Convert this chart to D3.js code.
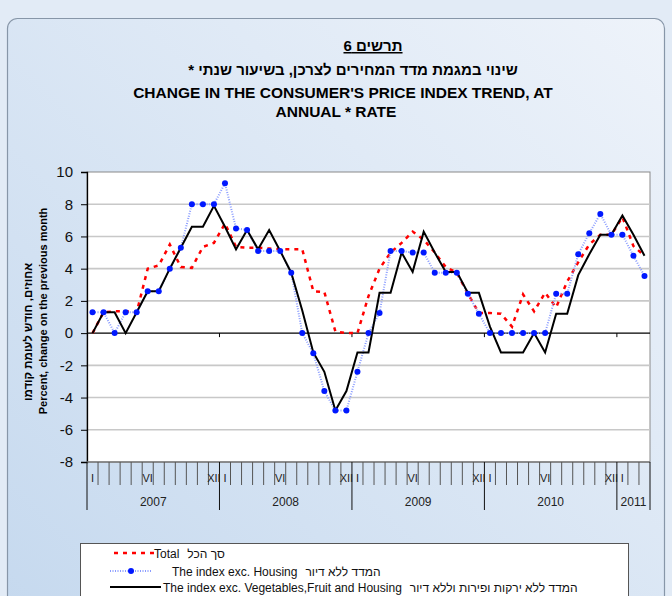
<!DOCTYPE html>
<html>
<head>
<meta charset="utf-8">
<script src="https://cdn.jsdelivr.net/npm/d3@7"></script>
<style>
  body { margin: 0; background: #dfe9f6; }
  svg { display: block; font-family: "Liberation Sans", Arial, "DejaVu Sans", sans-serif; }
</style>
</head>
<body>
<svg id="chart" width="672" height="596"></svg>
<script>
// categories: monthly, Jan 2007 - Mar 2011
const years = ["2007", "2008", "2009", "2010", "2011"];
const monthsPerYear = [12, 12, 12, 12, 3];
const monthNames = ["I", "", "", "", "", "VI", "", "", "", "", "", "XII"];

// Total
const total = [0, 1.3, 1.35, 1.35, 1.3, 4.0, 4.2, 5.5, 4.1, 4.05, 5.35, 5.6,
  6.8, 5.35, 5.3, 5.3, 5.25, 5.2, 5.2, 5.2, 2.6, 2.55, 0.1, 0, 0, 2.3,
  4.0, 5.0, 5.6, 6.3, 5.8, 5.0, 4.1, 3.75, 2.45, 1.25, 1.25, 1.2, 0.4, 2.4,
  1.35, 2.5, 1.6, 3.2, 4.4, 5.5, 6.1, 6.1, 7.2, 5.4, 4.8];

// The index exc. Housing
const exHousing = [1.3, 1.3, 0, 1.3, 1.3, 2.6, 2.6, 4.0, 5.3, 8.0, 8.0, 8.0,
  9.3, 6.5, 6.4, 5.1, 5.1, 5.1, 3.75, 0, -1.25, -3.6, -4.8, -4.8, -2.4, 0,
  1.25, 5.1, 5.1, 5.0, 5.0, 3.75, 3.75, 3.75, 2.45, 1.2, 0, 0, 0, 0,
  0, 0, 2.45, 2.45, 4.9, 6.2, 7.4, 6.1, 6.1, 4.8, 3.55];

// The index exc. Vegetables, Fruit and Housing
const exVegFruitHousing = [0, 1.3, 1.3, 0, 1.3, 2.6, 2.6, 4.0, 5.3, 6.6, 6.6, 7.9,
  6.6, 5.2, 6.4, 5.2, 6.4, 5.1, 3.75, 1.4, -1.2, -2.4, -4.8, -3.6, -1.2, -1.2,
  2.5, 2.5, 5.0, 3.8, 6.3, 5.0, 3.8, 3.8, 2.5, 2.5, 0.4, -1.2, -1.2, -1.2,
  0, -1.2, 1.2, 1.2, 3.6, 4.9, 6.1, 6.1, 7.3, 6.1, 4.8];

const yTicks = [-8, -6, -4, -2, 0, 2, 4, 6, 8, 10];

const categories = [];
years.forEach((yr, yi) => {
  for (let m = 0; m < monthsPerYear[yi]; m++) categories.push({ year: yr, month: monthNames[m] });
});

const svg = d3.select("#chart");
const W = 672, H = 596;
const plotL = 87, plotR = 650, plotT = 172, plotB = 462;

const defs = svg.append("defs");
const grad = defs.append("linearGradient").attr("id", "bg")
  .attr("x1", "100%").attr("y1", "0%").attr("x2", "0%").attr("y2", "100%");
grad.append("stop").attr("offset", "0%").attr("stop-color", "#eef3fa");
grad.append("stop").attr("offset", "100%").attr("stop-color", "#c4d8ee");

svg.append("rect").attr("width", W).attr("height", H).attr("fill", "#e2ebf6");
svg.append("rect")
  .attr("x", 7.5).attr("y", 18.5).attr("width", 657).attr("height", 640)
  .attr("rx", 10).attr("fill", "url(#bg)")
  .attr("stroke", "#8796a8").attr("stroke-width", 1.2);

// titles
svg.append("text").attr("x", 373).attr("y", 51)
  .attr("text-anchor", "middle").attr("direction", "rtl")
  .attr("font-size", 15).attr("font-weight", "bold")
  .style("text-decoration", "underline")
  .text("תרשים 6 ");
svg.append("text").attr("x", 353).attr("y", 75)
  .attr("text-anchor", "middle").attr("direction", "rtl")
  .attr("font-size", 15).attr("font-weight", "bold")
  .text("שינוי במגמת מדד המחירים לצרכן, בשיעור שנתי *");
svg.append("text").attr("x", 343).attr("y", 98)
  .attr("text-anchor", "middle")
  .attr("font-size", 15.5).attr("font-weight", "bold")
  .text("CHANGE IN THE CONSUMER'S PRICE INDEX TREND, AT");
svg.append("text").attr("x", 336).attr("y", 117)
  .attr("text-anchor", "middle")
  .attr("font-size", 15.5).attr("font-weight", "bold")
  .text("ANNUAL * RATE");

// scales
const x = d3.scaleBand().domain(d3.range(categories.length)).range([plotL, plotR]).padding(0);
const y = d3.scaleLinear().domain([-8, 10]).range([plotB, plotT]);
const cx = i => x(i) + x.bandwidth() / 2;

// plot area
svg.append("rect").attr("x", plotL).attr("y", plotT)
  .attr("width", plotR - plotL).attr("height", plotB - plotT)
  .attr("fill", "#fff").attr("stroke", "#8a8a8a").attr("stroke-width", 1);

svg.append("g").selectAll("line")
  .data(yTicks.filter(t => t !== 0 && t !== -8 && t !== 10))
  .join("line")
  .attr("x1", plotL).attr("x2", plotR)
  .attr("y1", d => y(d)).attr("y2", d => y(d))
  .attr("stroke", "#c8c8c8").attr("stroke-width", 1.6);

// zero line
svg.append("line").attr("x1", plotL).attr("x2", plotR)
  .attr("y1", y(0)).attr("y2", y(0))
  .attr("stroke", "#000").attr("stroke-width", 1.3);

// year boundaries (index of first month of each year + end)
const yearStarts = [];
let acc = 0;
monthsPerYear.forEach(n => { yearStarts.push(acc); acc += n; });
const yearBounds = yearStarts.concat([categories.length]);
const bx = i => (i < categories.length ? x(i) : plotR);

svg.append("g").selectAll("line")
  .data(yearStarts.slice(1))
  .join("line")
  .attr("x1", d => x(d)).attr("x2", d => x(d))
  .attr("y1", y(0)).attr("y2", y(0) + 4)
  .attr("stroke", "#000").attr("stroke-width", 1);

// y axis
const yAxis = svg.append("g").attr("transform", `translate(${plotL},0)`)
  .call(d3.axisLeft(y).tickValues(yTicks).tickSize(6).tickPadding(8).tickFormat(d => String(d)));
yAxis.select(".domain").attr("stroke", "#000").attr("stroke-width", 1.3);
yAxis.selectAll(".tick line").attr("stroke", "#000");
yAxis.selectAll(".tick text").attr("font-size", 15).attr("fill", "#111")
  .attr("font-family", "Liberation Sans, Arial, sans-serif");

// y axis titles
svg.append("text")
  .attr("transform", `translate(32,332) rotate(-90)`)
  .attr("text-anchor", "middle").attr("direction", "rtl")
  .attr("font-size", 11.5).attr("font-weight", "bold")
  .text("אחוזים, חודש לעומת קודמו");
svg.append("text")
  .attr("transform", `translate(47,311) rotate(-90)`)
  .attr("text-anchor", "middle")
  .attr("font-size", 11).attr("font-weight", "bold")
  .text("Percent, change on the previous month");

// x axis (category) line
svg.append("line").attr("x1", plotL).attr("x2", plotR)
  .attr("y1", plotB).attr("y2", plotB)
  .attr("stroke", "#7a7a7a").attr("stroke-width", 1.3);

const monthBounds = d3.range(1, categories.length).filter(i => !yearBounds.includes(i));
svg.append("g").selectAll("line")
  .data(monthBounds)
  .join("line")
  .attr("x1", d => x(d)).attr("x2", d => x(d))
  .attr("y1", plotB).attr("y2", plotB + 23)
  .attr("stroke", "#555").attr("stroke-width", 1);

svg.append("g").selectAll("line")
  .data(yearBounds)
  .join("line")
  .attr("x1", d => bx(d)).attr("x2", d => bx(d))
  .attr("y1", plotB).attr("y2", plotB + 48)
  .attr("stroke", "#111").attr("stroke-width", 1);

svg.append("g").selectAll("text")
  .data(categories)
  .join("text")
  .attr("x", (d, i) => cx(i)).attr("y", plotB + 20)
  .attr("text-anchor", "middle")
  .attr("font-size", 11).attr("fill", "#222")
  .text(d => d.month);

svg.append("g").selectAll("text")
  .data(years)
  .join("text")
  .attr("x", (d, i) => (bx(yearBounds[i]) + bx(yearBounds[i + 1])) / 2)
  .attr("y", plotB + 44)
  .attr("text-anchor", "middle")
  .attr("font-size", 12).attr("fill", "#222")
  .text(d => d);

// series
const line = d3.line().x((d, i) => cx(i)).y(d => y(d));

svg.append("path").datum(total)
  .attr("d", line).attr("fill", "none")
  .attr("stroke", "#ff0000").attr("stroke-width", 2.5)
  .attr("stroke-dasharray", "4,5");

svg.append("path").datum(exHousing)
  .attr("d", line).attr("fill", "none")
  .attr("stroke", "#8a9cff").attr("stroke-width", 2)
  .attr("stroke-dasharray", "1,1.5");

svg.append("path").datum(exVegFruitHousing)
  .attr("d", line).attr("fill", "none")
  .attr("stroke", "#000").attr("stroke-width", 2);

svg.append("g").selectAll("circle")
  .data(exHousing)
  .join("circle")
  .attr("cx", (d, i) => cx(i)).attr("cy", d => y(d))
  .attr("r", 3).attr("fill", "#0018ff");

// legend
const lg = svg.append("g");
lg.append("rect").attr("x", 80.5).attr("y", 543.5)
  .attr("width", 548).attr("height", 80)
  .attr("fill", "#fff").attr("stroke", "#555").attr("stroke-width", 1);

const legendRows = [
  { en: "Total", he: "סך הכל", y: 553, enX: 154 },
  { en: "The index exc. Housing", he: "המדד ללא דיור", y: 571, enX: 172 },
  { en: "The index exc. Vegetables,Fruit and Housing", he: "המדד ללא ירקות ופירות וללא דיור", y: 587, enX: 163 }
];

lg.append("line").attr("x1", 114).attr("x2", 154).attr("y1", legendRows[0].y).attr("y2", legendRows[0].y)
  .attr("stroke", "#ff0000").attr("stroke-width", 2.5).attr("stroke-dasharray", "4,5");
lg.append("line").attr("x1", 110).attr("x2", 152).attr("y1", legendRows[1].y).attr("y2", legendRows[1].y)
  .attr("stroke", "#8a9cff").attr("stroke-width", 2).attr("stroke-dasharray", "1,1.5");
lg.append("circle").attr("cx", 131).attr("cy", legendRows[1].y).attr("r", 3).attr("fill", "#0018ff");
lg.append("line").attr("x1", 110).attr("x2", 161).attr("y1", legendRows[2].y).attr("y2", legendRows[2].y)
  .attr("stroke", "#000").attr("stroke-width", 2);

legendRows.forEach(r => {
  const t = lg.append("text").attr("x", r.enX).attr("y", r.y + 4.5)
    .attr("font-size", 12).attr("fill", "#111").text(r.en);
  const w = t.node().getComputedTextLength();
  lg.append("text").attr("x", r.enX + w + 8).attr("y", r.y + 4.5)
    .attr("font-size", 12).attr("fill", "#111").text(r.he);
});
</script>
</body>
</html>
